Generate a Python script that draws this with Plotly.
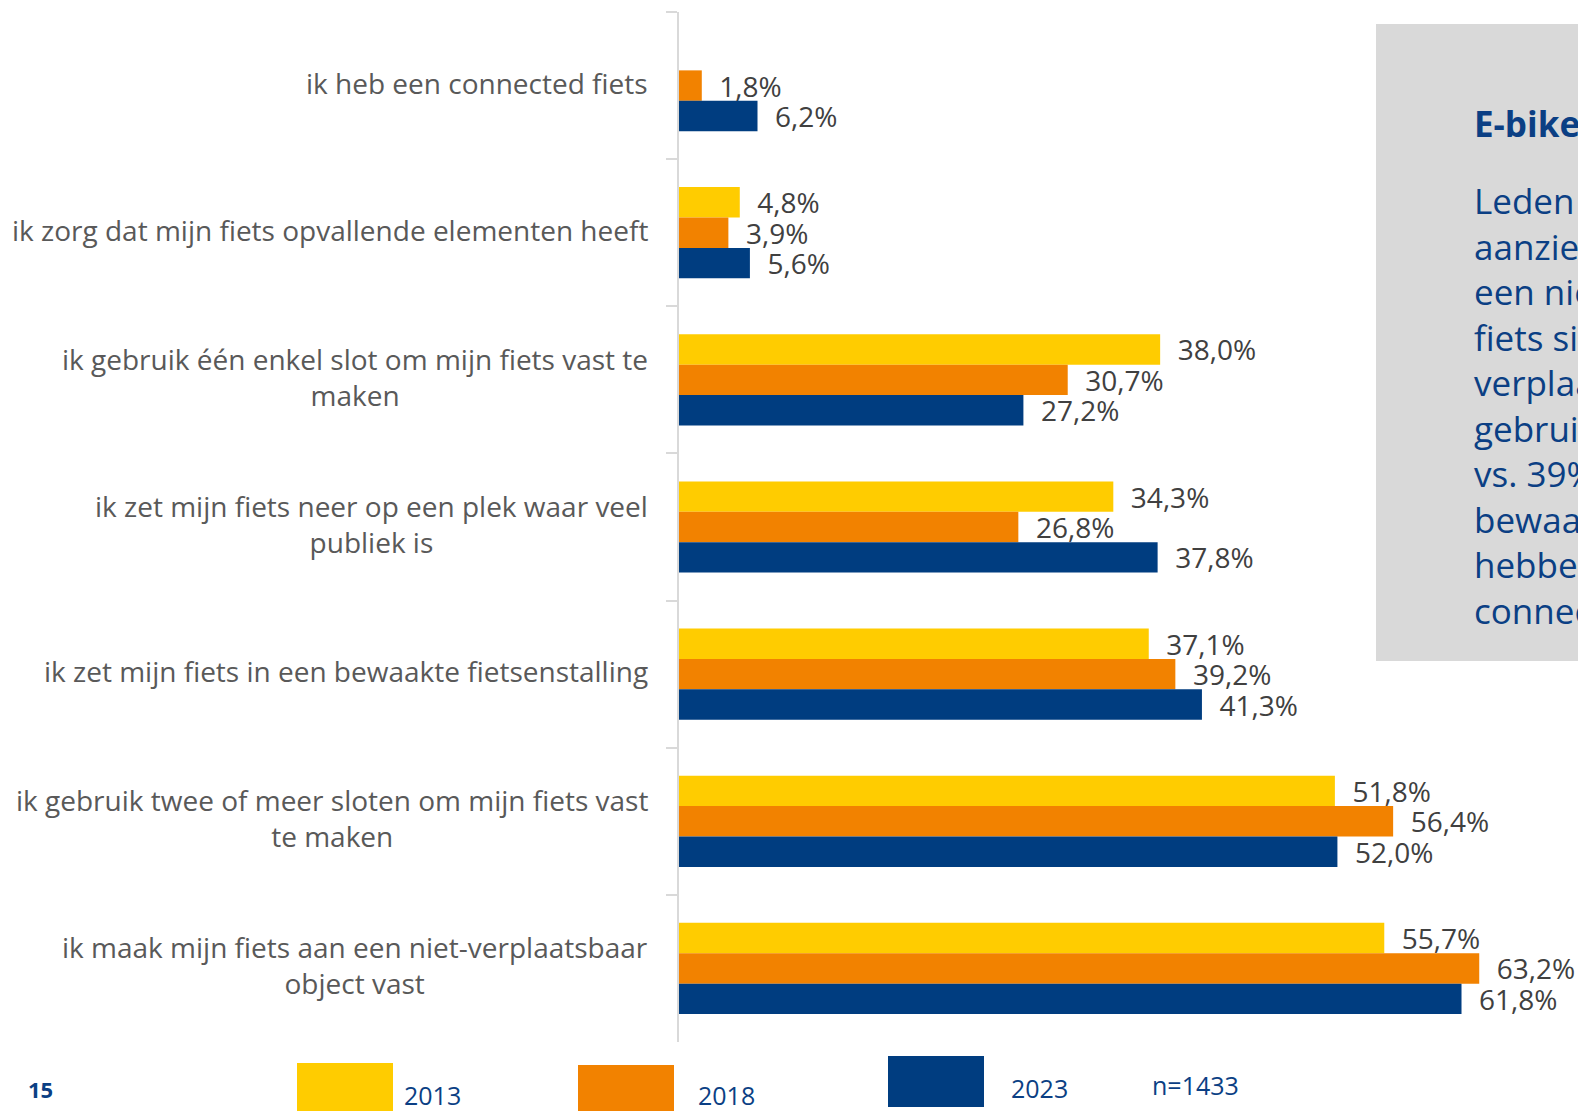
import plotly.graph_objects as go

# ── Colours ─────────────────────────────────────────────
YELLOW = "#FFCC00"
ORANGE = "#F28200"
NAVY   = "#003D80"
AXIS   = "#D9D9D9"
LABEL  = "#595959"
VALUE  = "#404040"
BOX    = "#D9D9D9"
TXT_NAVY = "#0B3F84"
FONT   = "Open Sans, Lato, sans-serif"

W, H = 1578, 1111

# ── Data ────────────────────────────────────────────────
categories = [
    "ik heb een connected fiets",
    "ik zorg dat mijn fiets opvallende elementen heeft",
    "ik gebruik één enkel slot om mijn fiets vast te<br>maken",
    "ik zet mijn fiets neer op een plek waar veel<br>publiek is",
    "ik zet mijn fiets in een bewaakte fietsenstalling",
    "ik gebruik twee of meer sloten om mijn fiets vast<br>te maken",
    "ik maak mijn fiets aan een niet-verplaatsbaar<br>object vast",
]
years = ["2013", "2018", "2023"]
v2013 = [None, 4.8, 38.0, 34.3, 37.1, 51.8, 55.7]
v2018 = [1.8, 3.9, 30.7, 26.8, 39.2, 56.4, 63.2]
v2023 = [6.2, 5.6, 27.2, 37.8, 41.3, 52.0, 61.8]
colors = [YELLOW, ORANGE, NAVY]

box_title = "E-bikes"
box_lines = [
    "Leden met", "aanzienlijk", "een niet-", "fiets sinds",
    "verplaatsbaar", "gebruiken", "vs. 39%", "bewaakte",
    "hebben", "connected",
]
sample_note = "n=1433"
page_no = "15"


def px(x):
    return x / W


def py(y):
    return 1 - y / H


def fmt(v):
    if v is None:
        return None
    return "\u00a0\u00a0" + f"{v:.1f}".replace(".", ",") + "%"


fig = go.Figure()
for year, vals, col in zip(years, [v2013, v2018, v2023], colors):
    fig.add_trace(go.Bar(
        y=categories, x=vals, name=year, orientation="h",
        marker=dict(color=col, line=dict(width=0)),
        text=[fmt(v) for v in vals],
        textposition="outside",
        constraintext="none",
        cliponaxis=False,
        textfont=dict(family=FONT, size=28, color=VALUE),
        hoverinfo="skip",
    ))

# Category labels (block right-aligned to the axis, lines centred)
annotations = []
for cat in categories:
    annotations.append(dict(
        text=cat, xref="paper", yref="y", x=px(650), y=cat,
        xanchor="right", yanchor="middle", align="center", showarrow=False,
        yshift=3,
        font=dict(family=FONT, size=28, color=LABEL),
    ))

# Side box text
annotations.append(dict(
    text=f"<b>{box_title}</b>", xref="paper", yref="paper",
    x=px(1472), y=py(123), xanchor="left", yanchor="middle",
    showarrow=False, align="left",
    font=dict(family=FONT, size=35, color=TXT_NAVY),
))
annotations.append(dict(
    text="<br>".join(box_lines), xref="paper", yref="paper",
    x=px(1472), y=py(406), xanchor="left", yanchor="middle",
    showarrow=False, align="left",
    font=dict(family=FONT, size=35, color=TXT_NAVY),
))

# Legend boxes + labels
legend_boxes = [(297, 1063, 1111), (578, 1065, 1111), (888, 1056, 1107)]
legend_text = [(402, 1095), (696, 1095), (1009, 1088)]
shapes = [dict(
    type="rect", xref="paper", yref="paper", layer="below",
    x0=px(1376), x1=1.01, y0=py(661), y1=py(24),
    fillcolor=BOX, line=dict(width=0),
)]
for (x0, y0, y1), (tx, ty), col, year in zip(legend_boxes, legend_text, colors, years):
    shapes.append(dict(
        type="rect", xref="paper", yref="paper",
        x0=px(x0), x1=px(x0 + 96), y0=py(y1), y1=py(y0),
        fillcolor=col, line=dict(width=0),
    ))
    annotations.append(dict(
        text=year, xref="paper", yref="paper", x=px(tx), y=py(ty),
        xanchor="left", yanchor="middle", showarrow=False,
        font=dict(family=FONT, size=25, color=TXT_NAVY),
    ))

annotations.append(dict(
    text=sample_note, xref="paper", yref="paper", x=px(1150), y=py(1085),
    xanchor="left", yanchor="middle", showarrow=False,
    font=dict(family=FONT, size=25, color=TXT_NAVY),
))
annotations.append(dict(
    text=f"<b>{page_no}</b>", xref="paper", yref="paper", x=px(26), y=py(1089),
    xanchor="left", yanchor="middle", showarrow=False,
    font=dict(family=FONT, size=22, color=TXT_NAVY),
))

fig.update_layout(
    width=W, height=H,
    paper_bgcolor="white", plot_bgcolor="white",
    margin=dict(l=0, r=0, t=0, b=0, pad=0),
    showlegend=False,
    barmode="group", bargap=0.38, bargroupgap=0,
    xaxis=dict(domain=[px(679), 1], range=[0, 71], visible=False),
    yaxis=dict(
        domain=[py(1042), py(12)], range=[6.5, -0.5],
        type="category",
        showline=True, linecolor=AXIS, linewidth=2,
        ticks="outside", ticklen=11, tickcolor=AXIS, tickwidth=2,
        tickson="boundaries", showticklabels=False, showgrid=False,
        zeroline=False,
    ),
    shapes=shapes,
    annotations=annotations,
)

fig.write_html(
    "out.html",
    config={"displayModeBar": False},
    post_script="document.body.style.margin='0';document.body.style.overflow='hidden';",
)
